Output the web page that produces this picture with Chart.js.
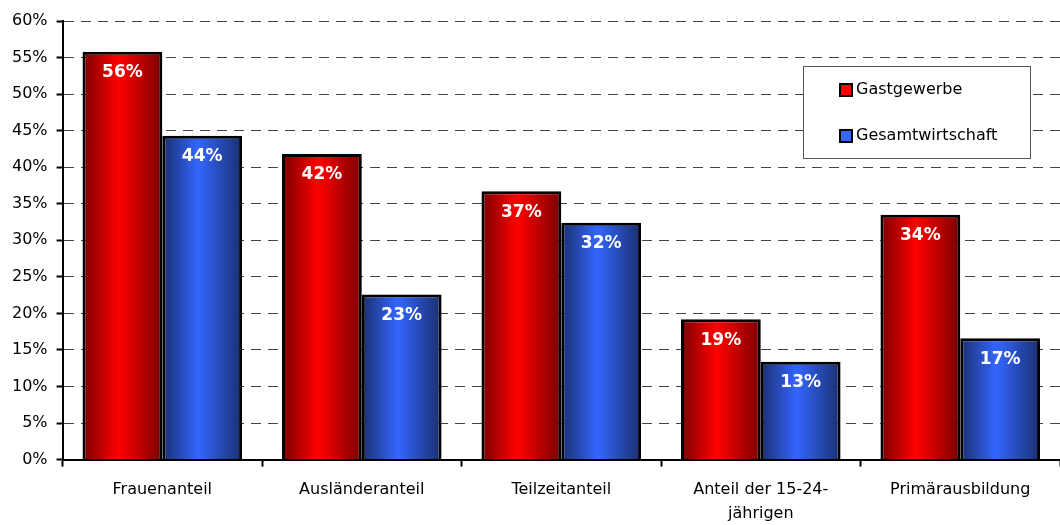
<!DOCTYPE html>
<html>
<head>
<meta charset="utf-8">
<script src="https://cdn.jsdelivr.net/npm/chart.js@4"></script>
<style>
  html, body { margin: 0; padding: 0; background: #fff; }
  #wrap { width: 1060px; height: 525px; }
</style>
</head>
<body>
<div id="wrap"><canvas id="chart" width="1060" height="525"></canvas></div>
<script>
const categories = ["Frauenanteil", "Ausländeranteil", "Teilzeitanteil", ["Anteil der 15-24-", "jährigen"], "Primärausbildung"];
const gastgewerbe = [55.8, 41.8, 36.7, 19.2, 33.5];
const gesamtwirtschaft = [44.3, 22.6, 32.4, 13.4, 16.6];
const seriesNames = ["Gastgewerbe", "Gesamtwirtschaft"];
const yTicks = [0, 5, 10, 15, 20, 25, 30, 35, 40, 45, 50, 55, 60];

const FONT = "'DejaVu Sans', Verdana, sans-serif";

// horizontal gradient per bar: dark edges, bright centre
function barGradient(ctx, edge, mid) {
  const chart = ctx.chart;
  const xs = chart.scales.x;
  if (!chart.chartArea || !xs || ctx.dataIndex === undefined) return mid;
  const catW = xs.width / categories.length;
  const barW = catW * 0.8 / 2;
  const c = xs.getPixelForValue(ctx.dataIndex);
  const left = ctx.datasetIndex === 0 ? c - barW : c;
  const g = chart.ctx.createLinearGradient(left, 0, left + barW, 0);
  g.addColorStop(0, edge);
  g.addColorStop(0.45, mid);
  g.addColorStop(1, edge);
  return g;
}

// white percentage labels inside the bars
const valueLabels = {
  id: "valueLabels",
  afterDatasetsDraw(chart) {
    const ctx = chart.ctx;
    ctx.save();
    ctx.fillStyle = "#fff";
    ctx.font = "bold 17px " + FONT;
    ctx.textAlign = "center";
    ctx.textBaseline = "middle";
    chart.data.datasets.forEach((ds, di) => {
      chart.getDatasetMeta(di).data.forEach((bar, i) => {
        ctx.fillText(Math.round(ds.data[i]) + "%", bar.x, bar.y + 21);
      });
    });
    ctx.restore();
  }
};

// boxed legend in the upper right
const boxLegend = {
  id: "boxLegend",
  afterDraw(chart) {
    const ctx = chart.ctx;
    const colors = ["#ff0000", "#3366ff"];
    ctx.save();
    ctx.fillStyle = "#fff";
    ctx.fillRect(803, 66, 227, 92);
    ctx.strokeStyle = "#555";
    ctx.lineWidth = 1;
    ctx.strokeRect(803.5, 66.5, 227, 92);
    ctx.font = "16px " + FONT;
    ctx.textBaseline = "middle";
    seriesNames.forEach((name, i) => {
      const y = 90 + i * 46;
      ctx.fillStyle = colors[i];
      ctx.fillRect(840, y - 6, 12, 12);
      ctx.strokeStyle = "#000";
      ctx.lineWidth = 2;
      ctx.strokeRect(840, y - 6, 12, 12);
      ctx.fillStyle = "#000";
      ctx.fillText(name, 856, y);
    });
    ctx.restore();
  }
};

new Chart(document.getElementById("chart"), {
  type: "bar",
  data: {
    labels: categories,
    datasets: [
      {
        label: seriesNames[0],
        data: gastgewerbe,
        backgroundColor: (c) => barGradient(c, "#7a0000", "#ff0000"),
        borderColor: "#000",
        borderWidth: 3,
        borderSkipped: "bottom"
      },
      {
        label: seriesNames[1],
        data: gesamtwirtschaft,
        backgroundColor: (c) => barGradient(c, "#1a2f6e", "#3366ff"),
        borderColor: "#000",
        borderWidth: 3,
        borderSkipped: "bottom"
      }
    ]
  },
  options: {
    responsive: false,
    animation: false,
    layout: { padding: { top: 21, right: 0, left: 3, bottom: -12 } },
    datasets: { bar: { categoryPercentage: 0.8, barPercentage: 1.0 } },
    plugins: {
      legend: { display: false },
      tooltip: { enabled: false }
    },
    scales: {
      x: {
        offset: true,
        grid: {
          offset: true,
          drawOnChartArea: false,
          drawTicks: true,
          tickLength: 7,
          tickColor: "#000",
          tickWidth: 2
        },
        border: { display: true, color: "#000", width: 2 },
        ticks: { color: "#000", font: { family: FONT, size: 16, lineHeight: 1.45 }, padding: 12, maxRotation: 0 }
      },
      y: {
        min: 0,
        max: 60,
        afterBuildTicks: (axis) => { axis.ticks = yTicks.map(v => ({ value: v })); },
        grid: {
          color: "#444",
          lineWidth: 1,
          tickColor: "#000",
          tickWidth: 2,
          tickLength: 6,
          tickBorderDash: []
        },
        border: { display: true, color: "#000", width: 2, dash: [10, 7] },
        ticks: {
          color: "#000",
          font: { family: FONT, size: 16 },
          padding: 9,
          callback: (v) => v + "%"
        }
      }
    }
  },
  plugins: [valueLabels, boxLegend]
});
</script>
</body>
</html>
